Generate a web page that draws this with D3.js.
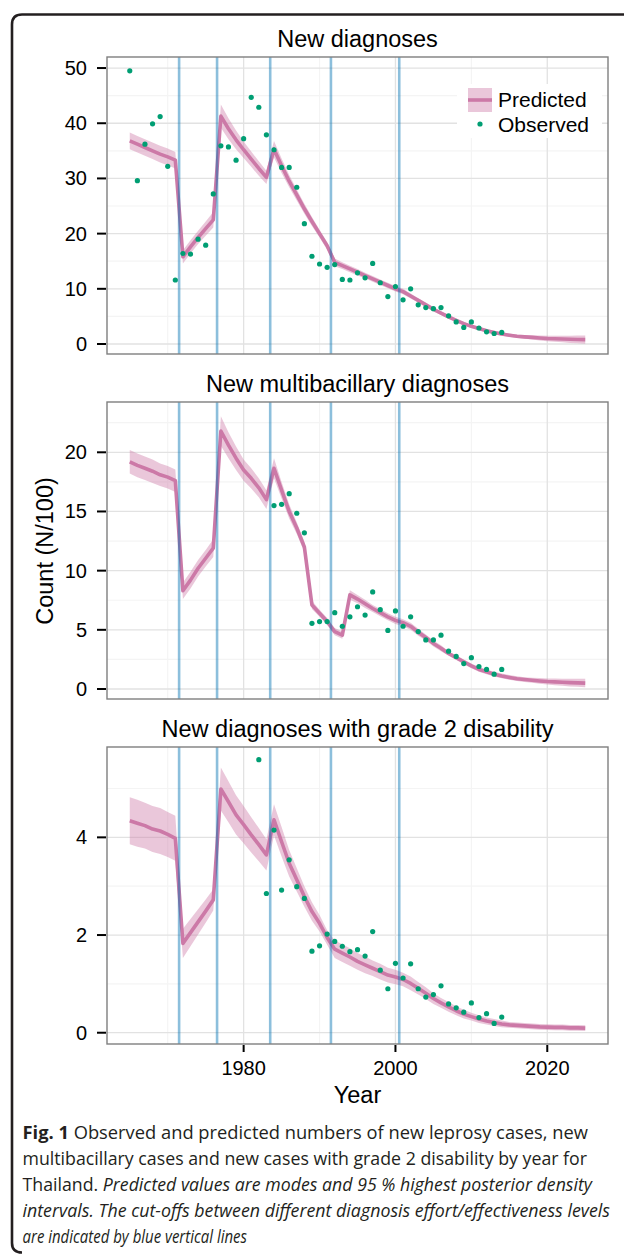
<!DOCTYPE html>
<html>
<head>
<meta charset="utf-8">
<script src="https://cdn.jsdelivr.net/npm/d3@7"></script>
<style>
  html, body { margin: 0; padding: 0; background: #fff; }
  svg { display: block; }
</style>
</head>
<body>
<div id="chart"></div>
<script>
// years of the model curve and of the observed series
const predYears = d3.range(1965, 2026);
const obsYears1 = d3.range(1965, 2015);
const obsYears2 = d3.range(1984, 2015);
const obsYears3 = d3.range(1982, 2015);

// cut-offs between diagnosis effort levels (blue lines)
const cutoffs = [1971.5, 1976.5, 1983.5, 1991.5, 2000.5];

const xTicks = [1980, 2000, 2020];
const xMinor = [1970, 1990, 2010];

// --- New diagnoses
const pred1 = [36.8, 36.2, 35.6, 35.0, 34.4, 33.9, 33.3,
  15.8, 17.6, 19.3, 20.9, 22.5,
  41.3, 39.0, 37.0, 35.2, 33.5, 31.8, 30.2,
  35.3, 32.3, 29.5, 27.0, 24.5, 22.2, 20.0, 17.8,
  14.8, 14.2, 13.6, 13.0, 12.4, 11.8, 11.2, 10.6, 10.0,
  9.5, 8.7, 7.9, 7.1, 6.3, 5.6, 4.9, 4.3, 3.7, 3.2, 2.8, 2.4, 2.1, 1.8, 1.6, 1.4, 1.3, 1.2, 1.1, 1.0, 0.95, 0.9, 0.85, 0.82, 0.8];
const lo1 = [35.3, 34.7, 34.1, 33.5, 32.9, 32.4, 31.8,
  14.6, 16.4, 18.1, 19.6, 21.1,
  39.2, 37.1, 35.3, 33.7, 32.1, 30.5, 29.0,
  33.8, 31.0, 28.4, 26.0, 23.6, 21.4, 19.3, 17.1,
  14.1, 13.6, 13.0, 12.4, 11.9, 11.3, 10.7, 10.1, 9.5,
  9.0, 8.25, 7.5, 6.7, 5.9, 5.25, 4.55, 4.0, 3.4, 2.9, 2.5, 2.1, 1.8, 1.5, 1.3, 1.1, 0.95, 0.8, 0.65, 0.5, 0.4, 0.3, 0.2, 0.12, 0.05];
const hi1 = [38.3, 37.7, 37.1, 36.5, 35.9, 35.4, 34.8,
  17.0, 18.8, 20.5, 22.2, 23.9,
  43.4, 40.9, 38.7, 36.7, 34.9, 33.1, 31.4,
  36.8, 33.6, 30.6, 28.0, 25.4, 23.0, 20.7, 18.5,
  15.5, 14.8, 14.2, 13.6, 12.9, 12.3, 11.7, 11.1, 10.5,
  10.0, 9.15, 8.3, 7.5, 6.7, 5.95, 5.25, 4.6, 4.0, 3.5, 3.1, 2.7, 2.4, 2.1, 1.9, 1.7, 1.65, 1.6, 1.55, 1.5, 1.5, 1.5, 1.5, 1.52, 1.55];
const obs1 = [49.5, 29.6, 36.2, 39.9, 41.2, 32.2, 11.6, 16.4, 16.3, 19.0,
  17.9, 27.2, 35.9, 35.7, 33.3, 37.2, 44.7, 42.9, 37.9, 35.2,
  32.0, 32.0, 28.4, 21.8, 15.9, 14.5, 13.9, 14.4, 11.7, 11.6,
  12.9, 12.0, 14.6, 11.1, 8.6, 10.4, 8.0, 10.0, 7.1, 6.6,
  6.4, 6.6, 5.1, 4.0, 3.0, 4.0, 2.9, 2.2, 1.9, 2.1];

// --- New multibacillary diagnoses
const pred2 = [19.2, 18.9, 18.65, 18.4, 18.1, 17.9, 17.6,
  8.3, 9.2, 10.2, 11.05, 11.9,
  21.8, 20.6, 19.5, 18.5, 17.8, 17.0, 16.0,
  18.65, 16.8, 15.0, 13.6, 12.0,
  7.1, 6.4, 5.7, 4.85, 4.55,
  7.95, 7.6, 7.2, 6.8, 6.45, 6.1, 5.8,
  5.6, 5.3, 4.8, 4.35, 3.85, 3.45, 3.0, 2.65, 2.3, 1.95, 1.65, 1.45, 1.25, 1.1, 0.98, 0.87, 0.8, 0.74, 0.68, 0.63, 0.6, 0.57, 0.54, 0.52, 0.5];
const lo2 = [18.2, 17.9, 17.65, 17.4, 17.15, 16.95, 16.65,
  7.6, 8.5, 9.5, 10.35, 11.15,
  20.55, 19.5, 18.5, 17.6, 16.95, 16.2, 15.2,
  17.8, 16.1, 14.4, 13.1, 11.55,
  6.75, 6.1, 5.4, 4.55, 4.25,
  7.55, 7.25, 6.85, 6.5, 6.15, 5.8, 5.5,
  5.3, 5.0, 4.5, 4.1, 3.6, 3.2, 2.8, 2.45, 2.1, 1.75, 1.45, 1.25, 1.05, 0.9, 0.78, 0.67, 0.6, 0.52, 0.44, 0.37, 0.32, 0.27, 0.22, 0.18, 0.14];
const hi2 = [20.2, 19.9, 19.65, 19.4, 19.05, 18.85, 18.55,
  9.0, 9.9, 10.9, 11.75, 12.65,
  23.05, 21.7, 20.5, 19.4, 18.65, 17.8, 16.8,
  19.5, 17.5, 15.6, 14.1, 12.45,
  7.45, 6.7, 6.0, 5.15, 4.85,
  8.35, 7.95, 7.55, 7.1, 6.75, 6.4, 6.1,
  5.9, 5.6, 5.1, 4.6, 4.1, 3.7, 3.2, 2.85, 2.5, 2.15, 1.85, 1.65, 1.45, 1.3, 1.18, 1.07, 1.0, 0.96, 0.92, 0.89, 0.88, 0.87, 0.86, 0.86, 0.86];
const obs2 = [15.5, 15.6, 16.5, 14.85, 13.2, 5.55, 5.7, 5.7, 6.45, 5.3,
  6.1, 6.95, 6.25, 8.2, 6.7, 4.95, 6.6, 5.3, 6.1, 4.85,
  4.15, 4.15, 4.55, 3.2, 2.75, 2.15, 2.65, 1.9, 1.65, 1.25, 1.65];

// --- New diagnoses with grade 2 disability
const pred3 = [4.34, 4.29, 4.24, 4.17, 4.13, 4.06, 3.98,
  1.83, 2.05, 2.27, 2.49, 2.72,
  4.99, 4.73, 4.46, 4.26, 4.05, 3.85, 3.64,
  4.36, 3.91, 3.47, 3.13, 2.79, 2.48, 2.24, 1.95,
  1.71, 1.63, 1.55, 1.46, 1.39, 1.32, 1.25, 1.18, 1.14,
  1.09, 1.01, 0.91, 0.81, 0.70, 0.61, 0.53, 0.45, 0.38, 0.33, 0.28, 0.24, 0.21, 0.18, 0.16, 0.15, 0.14, 0.13, 0.12, 0.115, 0.11, 0.11, 0.10, 0.10, 0.095];
const lo3 = [3.86, 3.81, 3.77, 3.70, 3.66, 3.60, 3.52,
  1.53, 1.77, 2.01, 2.25, 2.50,
  4.55, 4.31, 4.06, 3.88, 3.69, 3.51, 3.32,
  4.04, 3.61, 3.20, 2.89, 2.58, 2.29, 2.07, 1.80,
  1.53, 1.45, 1.37, 1.29, 1.22, 1.16, 1.09, 1.03, 0.99,
  0.95, 0.87, 0.78, 0.69, 0.59, 0.51, 0.43, 0.36, 0.29, 0.25, 0.20, 0.17, 0.14, 0.11, 0.10, 0.09, 0.08, 0.07, 0.06, 0.055, 0.05, 0.05, 0.04, 0.04, 0.035];
const hi3 = [4.82, 4.77, 4.71, 4.64, 4.60, 4.52, 4.44,
  2.13, 2.33, 2.53, 2.73, 2.94,
  5.43, 5.15, 4.86, 4.64, 4.41, 4.19, 3.96,
  4.68, 4.21, 3.74, 3.37, 3.00, 2.67, 2.41, 2.10,
  1.89, 1.81, 1.73, 1.63, 1.56, 1.48, 1.41, 1.33, 1.29,
  1.23, 1.15, 1.04, 0.93, 0.81, 0.71, 0.63, 0.54, 0.47, 0.41, 0.36, 0.31, 0.28, 0.25, 0.22, 0.21, 0.20, 0.19, 0.18, 0.175, 0.17, 0.17, 0.16, 0.16, 0.155];
const obs3 = [5.59, 2.85, 4.15, 2.92, 3.54, 2.99, 2.75, 1.67, 1.78, 2.02,
  1.87, 1.77, 1.66, 1.70, 1.57, 2.07, 1.28, 0.90, 1.42, 1.12,
  1.41, 0.90, 0.73, 0.78, 0.96, 0.59, 0.51, 0.42, 0.61, 0.31,
  0.39, 0.19, 0.32];

const panels = [
  {title: "New diagnoses", pred: pred1, lo: lo1, hi: hi1, obs: obs1, obsYears: obsYears1,
   domain: [-1.81, 52.0], ticks: [0, 10, 20, 30, 40, 50], minor: [5, 15, 25, 35, 45], top: 57},
  {title: "New multibacillary diagnoses", pred: pred2, lo: lo2, hi: hi2, obs: obs2, obsYears: obsYears2,
   domain: [-0.845, 24.25], ticks: [0, 5, 10, 15, 20], minor: [2.5, 7.5, 12.5, 17.5, 22.5], top: 402},
  {title: "New diagnoses with grade 2 disability", pred: pred3, lo: lo3, hi: hi3, obs: obs3, obsYears: obsYears3,
   domain: [-0.231, 5.85], ticks: [0, 2, 4], minor: [1, 3, 5], top: 747}
];

const width = 624, height = 1254;
const left = 107, right = 608, panelH = 297;
const font = "'Liberation Sans', Arial, Helvetica, sans-serif";
const pink = "#cc79a7", green = "#009e73", blue = "#0072b2";

const svg = d3.select("#chart").append("svg")
  .attr("width", width)
  .attr("height", height)
  .attr("viewBox", `0 0 ${width} ${height}`);

// outer figure frame (rounded corners, left + top)
svg.append("path")
  .attr("d", "M624,14.5 H22 Q12,14.5 12,24.5 V1243 Q12,1252.5 22,1252.5")
  .attr("fill", "none")
  .attr("stroke", "#231f20")
  .attr("stroke-width", 2.6);

const x = d3.scaleLinear().domain([1962, 2028]).range([left, right]);

panels.forEach((p, i) => {
  const top = p.top, bottom = top + panelH;
  const y = d3.scaleLinear().domain(p.domain).range([bottom, top]);
  const g = svg.append("g");

  // minor grid
  g.selectAll(".vminor").data(xMinor).join("line")
    .attr("x1", d => x(d)).attr("x2", d => x(d)).attr("y1", top).attr("y2", bottom)
    .attr("stroke", "#f4f4f4").attr("stroke-width", 1.2);
  g.selectAll(".hminor").data(p.minor).join("line")
    .attr("x1", left).attr("x2", right).attr("y1", d => y(d)).attr("y2", d => y(d))
    .attr("stroke", "#f4f4f4").attr("stroke-width", 1.2);
  // major grid
  g.selectAll(".vmajor").data(xTicks).join("line")
    .attr("x1", d => x(d)).attr("x2", d => x(d)).attr("y1", top).attr("y2", bottom)
    .attr("stroke", "#e2e2e2").attr("stroke-width", 1.3);
  g.selectAll(".hmajor").data(p.ticks).join("line")
    .attr("x1", left).attr("x2", right).attr("y1", d => y(d)).attr("y2", d => y(d))
    .attr("stroke", "#e2e2e2").attr("stroke-width", 1.3);

  const rows = predYears.map((yr, k) => ({yr, m: p.pred[k], lo: p.lo[k], hi: p.hi[k]}));

  g.append("path").datum(rows)
    .attr("d", d3.area().x(d => x(d.yr)).y0(d => y(d.lo)).y1(d => y(d.hi)))
    .attr("fill", pink).attr("fill-opacity", 0.42);

  g.append("path").datum(rows)
    .attr("d", d3.line().x(d => x(d.yr)).y(d => y(d.m)))
    .attr("fill", "none").attr("stroke", pink).attr("stroke-width", 3.6)
    .attr("stroke-linejoin", "round");

  g.selectAll(".cut").data(cutoffs).join("line")
    .attr("x1", d => x(d)).attr("x2", d => x(d)).attr("y1", top).attr("y2", bottom)
    .attr("stroke", blue).attr("stroke-opacity", 0.45).attr("stroke-width", 2.6);

  g.selectAll(".obs").data(p.obs).join("circle")
    .attr("cx", (d, k) => x(p.obsYears[k]))
    .attr("cy", d => y(d))
    .attr("r", 2.6)
    .attr("fill", green);

  // panel border
  g.append("rect")
    .attr("x", left).attr("y", top).attr("width", right - left).attr("height", panelH)
    .attr("fill", "none").attr("stroke", "#7f7f7f").attr("stroke-width", 1.4);

  // y axis ticks + labels
  g.selectAll(".ytick").data(p.ticks).join("line")
    .attr("x1", left - 10).attr("x2", left - 1).attr("y1", d => y(d)).attr("y2", d => y(d))
    .attr("stroke", "#000").attr("stroke-width", 2);
  g.selectAll(".ylab").data(p.ticks).join("text")
    .attr("x", 87).attr("y", d => y(d) + 7)
    .attr("text-anchor", "end")
    .attr("font-family", font).attr("font-size", 20)
    .text(d => d);

  // panel title
  g.append("text")
    .attr("x", (left + right) / 2).attr("y", top - 10)
    .attr("text-anchor", "middle")
    .attr("font-family", font).attr("font-size", 23.5)
    .text(p.title);

  if (i === panels.length - 1) {
    g.selectAll(".xtick").data(xTicks).join("line")
      .attr("x1", d => x(d)).attr("x2", d => x(d)).attr("y1", bottom + 1).attr("y2", bottom + 8)
      .attr("stroke", "#000").attr("stroke-width", 2);
    g.selectAll(".xlab").data(xTicks).join("text")
      .attr("x", d => x(d)).attr("y", bottom + 31)
      .attr("text-anchor", "middle")
      .attr("font-family", font).attr("font-size", 20)
      .text(d => d);
  }

  if (i === 0) {
    // legend
    const lg = g.append("g");
    lg.append("rect").attr("x", 457).attr("y", 84).attr("width", 145).attr("height", 54).attr("fill", "#fff");
    lg.append("rect").attr("x", 468).attr("y", 88).attr("width", 24).attr("height", 24)
      .attr("fill", pink).attr("fill-opacity", 0.42);
    lg.append("line").attr("x1", 468).attr("x2", 492).attr("y1", 100).attr("y2", 100)
      .attr("stroke", pink).attr("stroke-width", 3.6);
    lg.append("circle").attr("cx", 480).attr("cy", 124).attr("r", 2.6).attr("fill", green);
    lg.append("text").attr("x", 498).attr("y", 107)
      .attr("font-family", font).attr("font-size", 21).text("Predicted");
    lg.append("text").attr("x", 498).attr("y", 131.5)
      .attr("font-family", font).attr("font-size", 21).text("Observed");
  }
});

// axis titles
svg.append("text")
  .attr("x", (left + right) / 2).attr("y", 1103)
  .attr("text-anchor", "middle")
  .attr("font-family", font).attr("font-size", 23.5)
  .text("Year");
svg.append("text")
  .attr("transform", "translate(53,551) rotate(-90)")
  .attr("text-anchor", "middle")
  .attr("font-family", font).attr("font-size", 23.5)
  .text("Count (N/100)");

// caption
const capFont = "'Open Sans', 'Noto Sans', sans-serif";
const capLines = [
  {y: 1139, end: 588, parts: [["Fig. 1", "bold", "normal"], [" Observed and predicted numbers of new leprosy cases, new", "normal", "normal"]]},
  {y: 1165, end: 587, parts: [["multibacillary cases and new cases with grade 2 disability by year for", "normal", "normal"]]},
  {y: 1191, end: 592, parts: [["Thailand. ", "normal", "normal"], ["Predicted values are modes and 95 % highest posterior density", "normal", "italic"]]},
  {y: 1217, end: 610, parts: [["intervals. The cut-offs between different diagnosis effort/effectiveness levels", "normal", "italic"]]},
  {y: 1243, end: 247, parts: [["are indicated by blue vertical lines", "normal", "italic"]]}
];
capLines.forEach(l => {
  const t = svg.append("text")
    .attr("x", 22.5).attr("y", l.y)
    .attr("font-family", capFont).attr("font-size", 18)
    .attr("fill", "#231f20");
  l.parts.forEach(([s, w, st]) => {
    t.append("tspan").attr("font-weight", w).attr("font-style", st).text(s);
  });
  t.attr("textLength", l.end - 22.5).attr("lengthAdjust", "spacingAndGlyphs");
});
</script>
</body>
</html>
